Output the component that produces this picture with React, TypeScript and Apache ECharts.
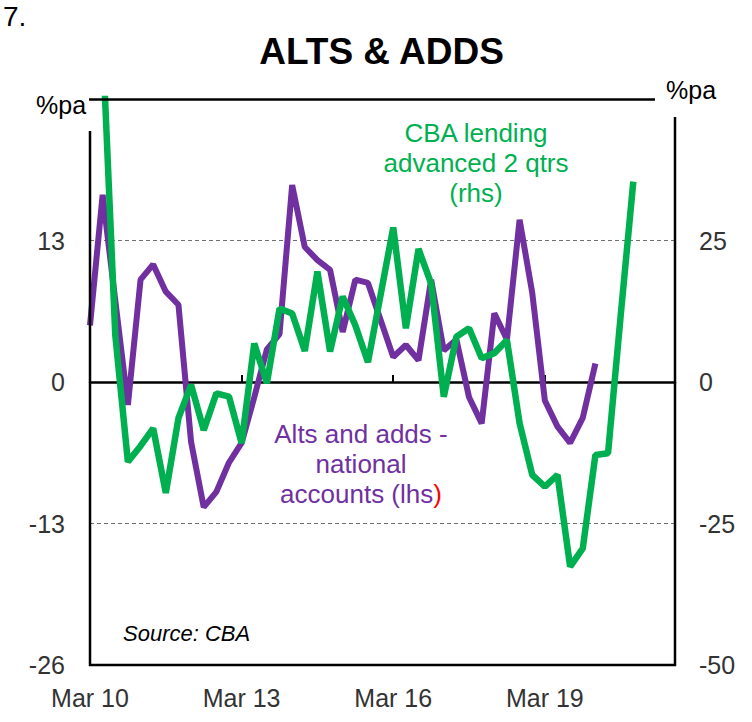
import React, { useEffect, useRef } from "react";
import * as echarts from "echarts";

// Quarterly categories (x position = index)
const quarters = [
  "Mar 10", "Jun 10", "Sep 10", "Dec 10",
  "Mar 11", "Jun 11", "Sep 11", "Dec 11",
  "Mar 12", "Jun 12", "Sep 12", "Dec 12",
  "Mar 13", "Jun 13", "Sep 13", "Dec 13",
  "Mar 14", "Jun 14", "Sep 14", "Dec 14",
  "Mar 15", "Jun 15", "Sep 15", "Dec 15",
  "Mar 16", "Jun 16", "Sep 16", "Dec 16",
  "Mar 17", "Jun 17", "Sep 17", "Dec 17",
  "Mar 18", "Jun 18", "Sep 18", "Dec 18",
  "Mar 19", "Jun 19", "Sep 19", "Dec 19",
  "Mar 20", "Jun 20", "Sep 20", "Dec 20",
];
const xTickLabels = ["Mar 10", "Mar 13", "Mar 16", "Mar 19"];
const leftTicks = [-26, -13, 0, 13];
const rightTicks = [-50, -25, 0, 25];
const dashedLevels = [13, -13];

// Alts and adds - national accounts (lhs, %pa)
const altsAdds = [
  5.2, 17.2, 7.5, -2.1, 9.4, 10.8, 8.3, 7.1,
  -5.5, -11.5, -10.1, -7.4, -5.6, -1.4, 3.0, 4.4,
  18.1, 12.4, 11.2, 10.3, 4.6, 9.4, 9.1, 5.7,
  2.3, 3.4, 2.0, 9.4, 2.9, 3.9, -1.4, -3.8,
  6.3, 3.9, 14.9, 8.2, -1.7, -4.1, -5.6, -3.3,
  1.7,
];

// CBA lending advanced 2 qtrs (rhs, %pa)
const cbaLending = [
  null, 60, 8.3, -14.1, -11.3, -8.2, -19.6, -6.4,
  -0.5, -8.5, -2.0, -2.6, -10.8, 6.8, -0.2, 13.0,
  12.1, 5.5, 19.5, 5.4, 15.1, 10.0, 3.5, 15.4,
  27.3, 9.5, 23.5, 17.4, -2.6, 8.0, 9.5, 4.2,
  5.1, 7.4, -7.3, -16.4, -18.5, -16.4, -32.6, -29.4,
  -12.9, -12.6, 11.7, 35.4,
];

const PURPLE = "#7030A0";
const GREEN = "#00B050";
const FONT = "Liberation Sans, Arial, sans-serif";
const LABEL = "#333333";

export default function App() {
  const ref = useRef<HTMLDivElement>(null);

  useEffect(() => {
    if (!ref.current) return;
    const chart = echarts.init(ref.current, undefined, { renderer: "svg" });

    const xFormatter = (v: number) => {
      const i = Math.round(v);
      if (Math.abs(v - i) > 1e-6) return "";
      const q = quarters[i];
      return q && xTickLabels.includes(q) ? q : "";
    };

    const frame = { stroke: "#000", lineWidth: 2.5 };

    const option: any = {
      animation: false,
      backgroundColor: "#fff",
      grid: { left: 90, right: 77, top: 99, bottom: 57, show: false },
      xAxis: [
        {
          type: "value",
          min: 0,
          max: 46.3,
          interval: 12,
          position: "bottom",
          axisLine: { show: false, onZero: false },
          axisTick: { show: false },
          splitLine: { show: false },
          axisLabel: {
            formatter: xFormatter,
            fontSize: 25,
            fontFamily: FONT,
            color: LABEL,
            margin: 20,
            showMinLabel: true,
            showMaxLabel: false,
          },
        },
        {
          type: "value",
          min: 0,
          max: 46.3,
          interval: 12,
          position: "top",
          axisLine: {
            show: true,
            onZero: true,
            onZeroAxisIndex: 0,
            lineStyle: { color: "#000", width: 2.5 },
          },
          axisTick: { show: true, inside: false, length: 7, lineStyle: { color: "#000", width: 2 } },
          axisLabel: { show: false },
          splitLine: { show: false },
        },
      ],
      yAxis: [
        {
          type: "value",
          min: -26,
          max: 26,
          interval: 13,
          position: "left",
          axisLine: { show: false },
          axisTick: { show: false },
          splitLine: { show: false },
          axisLabel: {
            formatter: (v: number) => (leftTicks.includes(v) ? String(v) : ""),
            fontSize: 25,
            fontFamily: FONT,
            color: LABEL,
            margin: 25,
          },
        },
        {
          type: "value",
          min: -50,
          max: 50,
          interval: 25,
          position: "right",
          axisLine: { show: false },
          axisTick: { show: false },
          splitLine: { show: false },
          axisLabel: {
            formatter: (v: number) => (rightTicks.includes(v) ? String(v) : ""),
            fontSize: 25,
            fontFamily: FONT,
            color: LABEL,
            margin: 24,
          },
        },
      ],
      series: [
        {
          name: "Alts and adds",
          type: "line",
          xAxisIndex: 0,
          yAxisIndex: 0,
          data: altsAdds.map((v, i) => [i, v]),
          showSymbol: false,
          symbol: "none",
          clip: true,
          lineStyle: { color: PURPLE, width: 6 },
          z: 3,
          markLine: {
            silent: true,
            symbol: "none",
            z: 1,
            label: { show: false },
            lineStyle: { color: "#6f6f6f", width: 1, type: [4, 3] },
            data: dashedLevels.map((v) => ({ yAxis: v })),
          },
        },
        {
          name: "CBA lending",
          type: "line",
          xAxisIndex: 0,
          yAxisIndex: 1,
          data: cbaLending.map((v, i) => [i, v]),
          connectNulls: false,
          showSymbol: false,
          symbol: "none",
          clip: true,
          lineStyle: { color: GREEN, width: 6.5 },
          z: 4,
        },
      ],
      graphic: [
        // frame
        { type: "line", z: 10, shape: { x1: 90, y1: 131, x2: 90, y2: 666 }, style: frame },
        { type: "line", z: 10, shape: { x1: 89, y1: 99.5, x2: 655, y2: 99.5 }, style: frame },
        { type: "line", z: 10, shape: { x1: 675, y1: 117, x2: 675, y2: 666 }, style: frame },
        { type: "line", z: 10, shape: { x1: 89, y1: 665, x2: 676, y2: 665 }, style: frame },
        // texts
        {
          type: "text", left: 3, top: 2, z: 10,
          style: { text: "7.", fontSize: 28, fontFamily: FONT, fill: "#000" },
        },
        {
          type: "text", x: 381.5, y: 51.5, z: 10,
          style: {
            text: "ALTS & ADDS", fontSize: 37, fontWeight: "bold", fontFamily: FONT,
            fill: "#000", align: "center", verticalAlign: "middle",
          },
        },
        {
          type: "text", x: 36, y: 105, z: 10,
          style: { text: "%pa", fontSize: 25, fontFamily: FONT, fill: "#000", align: "left", verticalAlign: "middle" },
        },
        {
          type: "text", x: 666, y: 90, z: 10,
          style: { text: "%pa", fontSize: 25, fontFamily: FONT, fill: "#000", align: "left", verticalAlign: "middle" },
        },
        {
          type: "text", x: 476, y: 133, z: 10,
          style: { text: "CBA lending", fontSize: 26, fontFamily: FONT, fill: GREEN, align: "center", verticalAlign: "middle" },
        },
        {
          type: "text", x: 476, y: 163, z: 10,
          style: { text: "advanced 2 qtrs", fontSize: 26, fontFamily: FONT, fill: GREEN, align: "center", verticalAlign: "middle" },
        },
        {
          type: "text", x: 476, y: 193, z: 10,
          style: { text: "(rhs)", fontSize: 26, fontFamily: FONT, fill: GREEN, align: "center", verticalAlign: "middle" },
        },
        {
          type: "text", x: 361, y: 434, z: 10,
          style: { text: "Alts and adds -", fontSize: 26, fontFamily: FONT, fill: PURPLE, align: "center", verticalAlign: "middle" },
        },
        {
          type: "text", x: 361, y: 464, z: 10,
          style: { text: "national", fontSize: 26, fontFamily: FONT, fill: PURPLE, align: "center", verticalAlign: "middle" },
        },
        {
          type: "text", x: 361, y: 494, z: 10,
          style: {
            text: "{p|accounts (lhs}{r|)}",
            align: "center",
            verticalAlign: "middle",
            rich: {
              p: { fontSize: 26, fontFamily: FONT, fill: PURPLE, color: PURPLE },
              r: { fontSize: 26, fontFamily: FONT, fill: "#ff0000", color: "#ff0000" },
            },
          },
        },
        {
          type: "text", x: 123, y: 633, z: 10,
          style: {
            text: "Source: CBA", fontSize: 22, fontStyle: "italic", fontFamily: FONT,
            fill: "#000", align: "left", verticalAlign: "middle",
          },
        },
      ],
    };

    chart.setOption(option);
    return () => chart.dispose();
  }, []);

  return (
    <div
      ref={ref}
      style={{ position: "fixed", left: 0, top: 0, width: 752, height: 722, background: "#fff" }}
    />
  );
}
